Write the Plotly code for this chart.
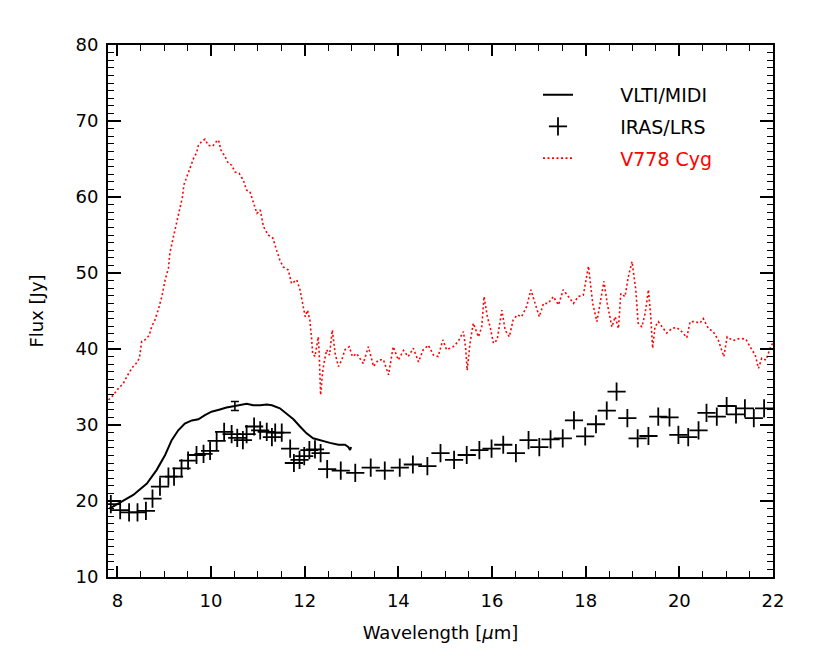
import plotly.graph_objects as go

# IRAS/LRS (crosses)
iras_wl = [7.86, 8.06, 8.25, 8.43, 8.61, 8.75, 8.91, 9.09, 9.21, 9.37, 9.51, 9.69, 9.84, 9.98,
           10.12, 10.28, 10.44, 10.56, 10.68, 10.76, 10.92, 11.05, 11.19, 11.30, 11.37, 11.51,
           11.69, 11.77, 11.89, 11.99, 12.10, 12.22, 12.34, 12.48, 12.77, 13.08, 13.41, 13.71,
           14.03, 14.31, 14.62, 14.90, 15.19, 15.46, 15.73, 15.99, 16.24, 16.51, 16.78, 17.01,
           17.25, 17.51, 17.75, 17.99, 18.22, 18.45, 18.66, 18.89, 19.11, 19.34, 19.55, 19.79,
           19.98, 20.19, 20.41, 20.58, 20.80, 21.01, 21.21, 21.40, 21.59, 21.81]
iras_flux = [19.6, 18.8, 18.5, 18.5, 18.7, 20.3, 21.9, 23.2, 23.2, 24.3, 25.3, 26.05, 26.2, 26.6,
             27.9, 29.1, 28.8, 28.3, 28.0, 28.8, 29.8, 29.3, 29.1, 28.4, 29.0, 29.0,
             26.9, 25.0, 25.4, 25.9, 26.7, 26.8, 26.3, 24.2, 24.0, 23.7, 24.4, 24.0,
             24.4, 24.8, 24.6, 26.3, 25.4, 26.05, 26.7, 26.9, 27.4, 26.3, 28.0, 27.1,
             28.1, 28.25, 30.6, 28.5, 30.1, 31.9, 34.4, 30.9, 28.25, 28.55, 31.1, 31.0,
             28.7, 28.4, 29.3, 31.6, 31.1, 32.5, 31.4, 32.2, 30.9, 32.2]

# VLTI/MIDI (solid line)
midi_wl = [7.83, 8.06, 8.34, 8.63, 8.84, 9.02, 9.16, 9.30, 9.44, 9.59, 9.73, 9.87, 10.01, 10.19,
           10.33, 10.51, 10.76, 10.90, 11.05, 11.19, 11.30, 11.47, 11.62, 11.76, 11.90, 12.04,
           12.18, 12.36, 12.54, 12.72, 12.86, 12.93, 12.97, 12.99]
midi_flux = [19.0, 19.8, 20.8, 22.3, 24.1, 26.05, 28.0, 29.3, 30.2, 30.6, 30.75, 31.3, 31.75, 32.05,
             32.3, 32.5, 32.8, 32.6, 32.6, 32.7, 32.6, 32.2, 31.5, 30.75, 29.8, 28.9,
             28.25, 27.9, 27.65, 27.4, 27.4, 27.1, 26.7, 27.1]

# Error bar on the MIDI spectrum
err_wl = [10.51]
err_flux = [32.5]
err_size = [0.6]

# V778 Cyg (red dotted)
cyg_wl = [7.81, 7.91, 8.02, 8.13, 8.20, 8.31, 8.40, 8.47, 8.52, 8.59, 8.68, 8.73, 8.80, 8.87, 8.95,
          9.02, 9.09, 9.12, 9.18, 9.23, 9.29, 9.34, 9.39, 9.42, 9.49, 9.57, 9.64, 9.69, 9.73, 9.80,
          9.87, 9.94, 10.04, 10.08, 10.16, 10.21, 10.30, 10.37, 10.44, 10.51, 10.60, 10.69, 10.76,
          10.83, 10.90, 10.98, 11.05, 11.12, 11.22, 11.32, 11.40, 11.47, 11.54, 11.65, 11.72, 11.83,
          11.90, 11.95, 12.01, 12.06, 12.11, 12.15, 12.17, 12.22, 12.29, 12.31, 12.33, 12.34, 12.38,
          12.41, 12.47, 12.53, 12.59, 12.65, 12.72, 12.79, 12.86, 12.95, 13.02, 13.11, 13.25, 13.36,
          13.47, 13.57, 13.68, 13.79, 13.89, 14.00, 14.11, 14.21, 14.32, 14.43, 14.53, 14.64, 14.75,
          14.85, 14.95, 15.03, 15.17, 15.28, 15.39, 15.44, 15.47, 15.53, 15.60, 15.71, 15.78, 15.83,
          15.90, 15.96, 16.03, 16.11, 16.21, 16.28, 16.37, 16.45, 16.54, 16.63, 16.74, 16.83, 16.92,
          17.01, 17.10, 17.20, 17.31, 17.42, 17.52, 17.63, 17.74, 17.84, 17.95, 18.06, 18.15, 18.24,
          18.31, 18.39, 18.46, 18.56, 18.63, 18.70, 18.75, 18.84, 18.91, 18.99, 19.07, 19.12, 19.20,
          19.27, 19.34, 19.39, 19.43, 19.48, 19.55, 19.66, 19.73, 19.84, 19.94, 20.05, 20.16, 20.23,
          20.33, 20.44, 20.51, 20.62, 20.72, 20.83, 20.90, 20.95, 21.02, 21.15, 21.29, 21.42, 21.51,
          21.62, 21.69, 21.76, 21.85, 21.95, 22.00]
cyg_flux = [33.3, 33.9, 34.8, 35.5, 36.35, 37.5, 38.1, 38.8, 41.0, 41.2, 41.8, 42.9, 43.8, 45.1, 46.9,
            49.1, 50.6, 52.6, 54.3, 55.7, 57.0, 58.7, 60.0, 61.6, 62.7, 64.0, 65.3, 65.75, 66.8, 67.3,
            67.6, 66.8, 66.7, 67.1, 67.5, 66.2, 65.3, 64.4, 64.2, 63.3, 63.1, 62.2, 60.9,
            60.7, 59.4, 57.85, 58.3, 56.1, 55.0, 54.6, 53.0, 51.7, 50.8, 50.4, 48.6, 49.1,
            47.8, 46.0, 44.25, 45.1, 43.8, 41.2, 39.4, 39.0, 41.6, 39.4, 36.35, 33.95, 36.8,
            38.1, 39.9, 39.2, 42.5, 39.4, 37.7, 38.55, 39.9, 40.3, 39.0, 39.4, 38.1, 40.3,
            37.7, 38.55, 38.6, 36.6, 40.3, 38.55, 39.8, 39.0, 40.1, 38.3, 39.9, 40.5, 39.2,
            39.0, 41.2, 39.9, 40.3, 41.0, 42.3, 39.9, 37.2, 40.75, 43.4, 41.6, 42.9, 46.9,
            44.25, 42.9, 40.75, 41.2, 45.1, 42.5, 41.6, 43.8, 44.5, 44.25, 45.6, 47.8, 46.0,
            44.25, 46.0, 46.0, 46.9, 45.8, 47.8, 46.9, 46.0, 46.9, 47.1, 50.9, 46.0, 43.6,
            46.0, 48.9, 46.0, 42.9, 44.25, 42.7, 47.3, 46.9, 49.5, 51.5, 47.8, 43.4, 42.9,
            44.7, 47.8, 44.25, 40.1, 42.9, 43.6, 42.7, 42.1, 42.7, 42.85, 42.3, 41.5, 43.6,
            43.6, 43.4, 44.0, 42.7, 42.3, 41.2, 39.9, 39.0, 41.6, 41.1, 41.4, 41.3, 40.3,
            39.2, 37.45, 38.8, 38.55, 40.3, 40.8]

x_ticks = [8, 10, 12, 14, 16, 18, 20, 22]
y_ticks = [10, 20, 30, 40, 50, 60, 70, 80]

FONT = "DejaVu Sans"
pad = "\u00a0" * 7

fig = go.Figure()

fig.add_trace(go.Scatter(
    x=midi_wl, y=midi_flux, mode="lines",
    line=dict(color="black", width=2),
    name=pad + "VLTI/MIDI", legendgroup="a",
))
fig.add_trace(go.Scatter(
    x=err_wl, y=err_flux, mode="markers",
    marker=dict(size=1, color="rgba(0,0,0,0)"),
    error_y=dict(type="data", array=err_size, visible=True, color="black", thickness=1.6, width=4),
    showlegend=False, hoverinfo="skip",
))
fig.add_trace(go.Scatter(
    x=iras_wl, y=iras_flux, mode="markers",
    marker=dict(symbol="cross-thin", size=13, line=dict(color="black", width=1.8)),
    name=pad + "IRAS/LRS", legendgroup="b",
))
fig.add_trace(go.Scatter(
    x=cyg_wl, y=cyg_flux, mode="lines",
    line=dict(color="#ff0000", width=1.6, dash="2px,2.5px"),
    name=pad + "<span style='color:#ff0000'>V778 Cyg</span>", legendgroup="c",
))

axis_common = dict(
    showline=True, linecolor="black", linewidth=1.8, mirror="allticks",
    ticks="inside", tickcolor="black", tickwidth=1.6,
    showgrid=False, zeroline=False,
    tickfont=dict(family=FONT, size=18, color="black"),
)

fig.update_xaxes(
    range=[7.8, 22], tickvals=x_ticks, ticktext=[str(v) for v in x_ticks], ticklen=11,
    minor=dict(ticks="inside", dtick=0.5, tick0=8, ticklen=6, tickcolor="black", tickwidth=1.4),
    title=dict(text="Wavelength [<i>\u03bc</i>m]", font=dict(family=FONT, size=18, color="black"), standoff=17),
    ticklabelstandoff=6,
    **axis_common,
)
fig.update_yaxes(
    range=[10, 80], tickvals=y_ticks, ticktext=[str(v) for v in y_ticks], ticklen=13,
    minor=dict(ticks="inside", dtick=1, tick0=10, ticklen=6, tickcolor="black", tickwidth=1.4),
    title=dict(text="Flux [Jy]", font=dict(family=FONT, size=18, color="black"), standoff=27),
    ticklabelstandoff=4,
    **axis_common,
)

fig.update_layout(
    width=822, height=657,
    margin=dict(l=100, r=57, t=37, b=88),
    plot_bgcolor="white", paper_bgcolor="white",
    font=dict(family=FONT, size=18, color="black"),
    showlegend=True,
    legend=dict(
        x=0.6466, y=0.942, xanchor="left", yanchor="top",
        bgcolor="rgba(0,0,0,0)", borderwidth=0,
        font=dict(family=FONT, size=19, color="black"),
        tracegroupgap=4, itemwidth=30,
    ),
)

fig.write_html("out.html")
